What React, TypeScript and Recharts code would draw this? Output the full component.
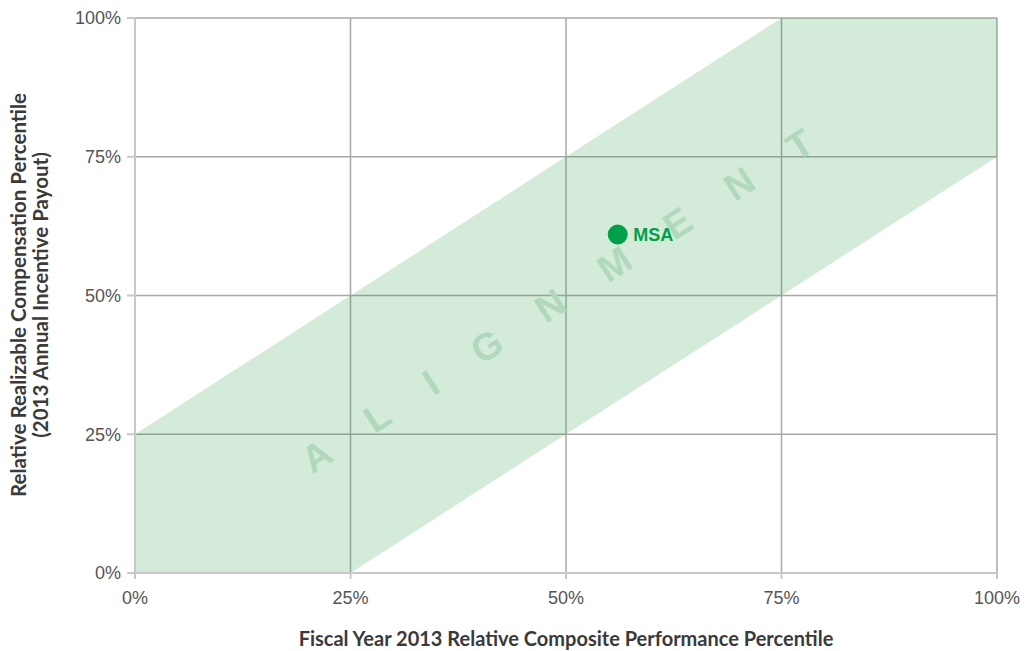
import {
  ComposedChart,
  Area,
  Scatter,
  XAxis,
  YAxis,
  CartesianGrid,
  ReferenceDot,
  LabelList,
} from 'recharts';

// band edges: [x, low, high] in percentiles
const bandX = [0, 25, 75, 100];
const bandLow = [0, 0, 50, 75];
const bandHigh = [25, 50, 100, 100];

const ticks = [0, 25, 50, 75, 100];

const companyName = ['MSA'];
const companyPerf = [56];
const companyComp = [61];

const bandData = bandX.map((x, i) => ({ x, range: [bandLow[i], bandHigh[i]] }));
const pointData = companyName.map((name, i) => ({ x: companyPerf[i], y: companyComp[i], name }));

const GREEN = '#00a04b';
const tickStyle = { fill: '#555', fontSize: 18, fontFamily: 'Liberation Sans, Arial, sans-serif' };

const AlignmentLabel = (props: any) => {
  const { viewBox } = props;
  const cx = viewBox.x;
  const cy = viewBox.y;
  return (
    <text
      x={cx}
      y={cy}
      transform={`rotate(-32.8 ${cx} ${cy})`}
      textAnchor="middle"
      dominantBaseline="central"
      textLength={600}
      lengthAdjust="spacing"
      fill="#b0d9bb"
      fontSize={38}
      fontFamily="Liberation Sans, Arial, sans-serif"
      fontWeight="bold"
    >
      ALIGNMENT
    </text>
  );
};

const YLabel = () => (
  <g fontFamily="Lato, sans-serif" fontWeight="bold" fontSize={20.5} fill="#3a3a3a" textAnchor="middle">
    <text x={0} y={0} dominantBaseline="central" transform="translate(18 295) rotate(-90)">
      Relative Realizable Compensation Percentile
    </text>
    <text x={0} y={0} dominantBaseline="central" transform="translate(40 295) rotate(-90)">
      (2013 Annual Incentive Payout)
    </text>
  </g>
);

export default function App() {
  return (
    <div style={{ position: 'absolute', left: 0, top: 0, background: '#fff' }}>
      <ComposedChart
        width={1026}
        height={651}
        margin={{ top: 18, right: 29, left: 0, bottom: 0 }}
      >
        <CartesianGrid stroke="#a8a8a8" strokeWidth={1.5} />
        <XAxis
          type="number"
          dataKey="x"
          domain={[0, 100]}
          ticks={ticks}
          tickFormatter={(v) => `${v}%`}
          height={78}
          tick={tickStyle}
          tickSize={6}
          tickMargin={12}
          stroke="#c8c8c8"
          strokeWidth={2}
          allowDuplicatedCategory={false}
          label={{
            value: 'Fiscal Year 2013 Relative Composite Performance Percentile',
            position: 'insideBottom',
            offset: 5,
            fill: '#3a3a3a',
            fontSize: 20,
            fontWeight: 'bold',
            fontFamily: 'Lato, sans-serif',
          }}
        />
        <YAxis
          type="number"
          domain={[0, 100]}
          ticks={ticks}
          tickFormatter={(v) => `${v}%`}
          width={135}
          tick={tickStyle}
          tickSize={8}
          tickMargin={6}
          stroke="#c8c8c8"
          strokeWidth={2}
          label={{ content: () => <YLabel /> }}
        />
        <Area
          data={bandData}
          dataKey="range"
          type="linear"
          stroke="none"
          fill="#2e9a48"
          fillOpacity={0.2}
          isAnimationActive={false}
          activeDot={false}
        />
        <ReferenceDot x={49} y={49} r={0} stroke="none" fill="none" label={{ content: (p: any) => <AlignmentLabel {...p} /> }} />
        <Scatter data={pointData} dataKey="y" fill={GREEN} isAnimationActive={false} shape={(p: any) => <circle cx={p.cx} cy={p.cy} r={10} fill={GREEN} />}>
          <LabelList
            dataKey="name"
            position="right"
            offset={11}
            fill={GREEN}
            fontSize={18}
            fontWeight="bold"
            fontFamily="Liberation Sans, Arial, sans-serif"
          />
        </Scatter>
      </ComposedChart>
    </div>
  );
}
